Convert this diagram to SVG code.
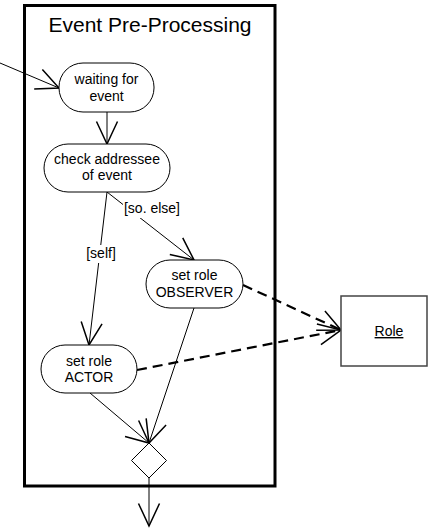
<svg xmlns="http://www.w3.org/2000/svg" width="428" height="529" viewBox="0 0 428 529">
  <style>
    .frame { fill: none; stroke: #000; stroke-width: 3; }
    .node rect { fill: #fff; stroke: #000; stroke-width: 1; }
    .label { font-family: "Liberation Sans", Arial, sans-serif; font-size: 14px; fill: #000; text-anchor: middle; }
    .title { font-family: "Liberation Sans", Arial, sans-serif; font-size: 21px; fill: #000; text-anchor: middle; }
    .flow { fill: none; stroke: #000; stroke-width: 1; marker-end: url(#open); }
    .dep { fill: none; stroke: #000; stroke-width: 2.2; stroke-dasharray: 10 6; marker-end: url(#open); }
    .guard { fill: #fff; }
  </style>
  <defs>
    <marker id="open" markerUnits="userSpaceOnUse" markerWidth="30" markerHeight="30" refX="0" refY="0" viewBox="-16 -10 20 20" orient="auto" overflow="visible">
      <path d="M-15,-7 L0,0 L-15,7" fill="none" stroke="#000" stroke-width="1" stroke-dasharray="none"/>
    </marker>
  </defs>

  <!-- activity frame -->
  <rect class="frame" x="24.5" y="5.5" width="250.5" height="480.5"/>
  <text class="title" x="150" y="32">Event Pre-Processing</text>

  <!-- connectors -->
  <g id="connectors">
    <line class="flow" x1="0" y1="63" x2="59" y2="88"/>
    <line class="flow" x1="107" y1="112" x2="107" y2="144"/>
    <line class="flow" x1="107" y1="192" x2="89" y2="345"/>
    <line class="flow" x1="107" y1="192" x2="194" y2="260"/>
    <line class="flow" x1="90" y1="393" x2="149" y2="443"/>
    <line class="flow" x1="194" y1="308" x2="149" y2="443"/>
    <line class="flow" x1="149" y1="478" x2="149" y2="526"/>
    <line class="dep" x1="243" y1="285" x2="341" y2="330"/>
    <line class="dep" x1="137" y1="370" x2="341" y2="330"/>
    <!-- guard labels -->
    <rect class="guard" x="86" y="245" width="30" height="18"/>
    <text class="label" x="101" y="258">[self]</text>
    <rect class="guard" x="123" y="200" width="58" height="18"/>
    <text class="label" x="152" y="213">[so. else]</text>
  </g>

  <g id="waiting" class="node">
    <rect x="59" y="63" width="95" height="49" rx="24" ry="24"/>
    <text class="label" x="106.5" y="84">waiting for</text>
    <text class="label" x="106.5" y="101">event</text>
  </g>

  <g id="check" class="node">
    <rect x="44" y="144" width="126" height="48" rx="24" ry="24"/>
    <text class="label" x="107" y="164">check addressee</text>
    <text class="label" x="107" y="180">of event</text>
  </g>

  <g id="observer" class="node">
    <rect x="146" y="260" width="97" height="48" rx="24" ry="24"/>
    <text class="label" x="194.5" y="280">set role</text>
    <text class="label" x="194.5" y="297">OBSERVER</text>
  </g>

  <g id="actor" class="node">
    <rect x="41" y="345" width="96" height="48" rx="24" ry="24"/>
    <text class="label" x="89" y="366">set role</text>
    <text class="label" x="89" y="382">ACTOR</text>
  </g>

  <g id="merge">
    <polygon points="149,443 166.5,460.5 149,478 131.5,460.5" fill="#fff" stroke="#000" stroke-width="1"/>
  </g>

  <g id="role">
    <rect x="341" y="296" width="86" height="70" fill="#fff" stroke="#444" stroke-width="1.5"/>
    <text class="label" x="389" y="336" text-decoration="underline">Role</text>
  </g>
</svg>
